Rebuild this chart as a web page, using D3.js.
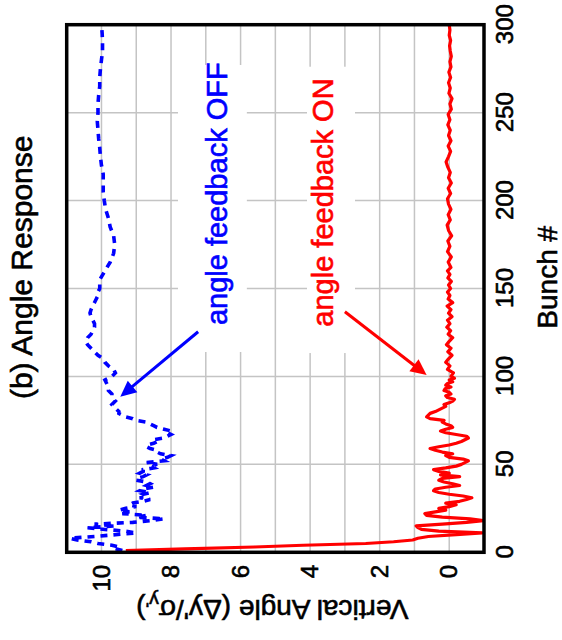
<!DOCTYPE html>
<html><head><meta charset="utf-8">
<script src="https://cdn.jsdelivr.net/npm/d3@7"></script>
<style>body{margin:0;background:#fff}svg{display:block}text{font-family:"Liberation Sans",Arial,Helvetica,sans-serif}</style>
</head><body>
<script>
// ---- data ----
const bunchTicks = [0, 50, 100, 150, 200, 250, 300];
const angleTicks = [0, 2, 4, 6, 8, 10];
const bunchGrid = [50, 100, 150, 200, 250];
const angleGrid = [0, 1, 2, 3, 4, 5, 6, 7, 8, 9, 10];

const offBunch = [1,2,3,4,5,6,7,8,9,10,11,12,13,14,15,16,17,18,19,20,21,22,23,24,25,26,27,28,29,30,31,32,33,34,35,36,37,38,39,40,41,42,43,44,45,46,47,48,49,50,51,52,53,54,55,56,57,58,59,60,61,62,63,64,65,66,67,68,69,70,71,72,73,74,75,76,77,78,79,80,82,84,86,88,90,92,94,96,98,100,102,104,106,108,110,112,114,116,118,120,122,124,126,128,130,132,134,136,138,140,142,144,146,148,150,155,160,165,170,175,180,185,190,195,200,205,210,215,220,225,230,235,240,245,250,255,260,265,270,275,280,285,290,295,300];
const offAngle = [9.4,9.6,9.5,9.7,10.1,10.3,10.7,10.9,10.2,9.6,9.0,9.3,9.9,10.4,9.6,10.2,9.1,8.6,8.2,9.0,8.7,9.4,9.2,9.5,9.3,9.0,9.2,9.1,8.8,8.6,8.9,8.7,8.8,8.6,8.9,8.8,8.5,8.7,8.6,8.7,9.0,9.0,8.8,8.7,8.9,8.8,8.8,8.5,8.6,8.4,8.7,8.2,8.3,8.1,8.0,8.3,8.4,8.4,8.6,8.7,8.7,8.5,8.4,8.5,8.2,8.1,8.0,8.1,8.0,8.2,8.4,8.5,8.6,8.7,9.0,9.1,9.3,9.4,9.5,9.5,9.6,9.7,9.6,9.7,9.7,9.8,9.8,9.85,9.9,9.7,9.6,9.65,9.8,9.9,9.95,10.1,10.2,10.3,10.4,10.45,10.4,10.3,10.25,10.2,10.2,10.25,10.3,10.33,10.3,10.25,10.2,10.15,10.1,10.1,10.05,10.05,9.9,9.75,9.65,9.62,9.65,9.75,9.8,9.88,9.92,9.95,9.95,9.95,10.0,10.03,10.05,10.08,10.1,10.12,10.1,10.1,10.08,10.05,10.05,10.03,10.0,9.97,9.97,9.98,10.0];

const onBunch = [1,2,3,4,5,6,7,8,9,10,11,12,13,14,15,16,17,18,19,20,21,22,23,24,25,26,27,28,29,30,31,32,33,34,35,36,37,38,39,40,41,42,43,44,45,46,47,48,49,50,51,52,53,54,55,56,57,58,59,60,61,62,63,64,65,66,67,68,69,70,71,72,73,74,75,76,77,78,79,80,81,82,83,84,85,86,87,88,89,90,91,92,93,94,95,96,97,98,99,100,102,104,106,108,110,112,114,116,118,120,122,124,126,128,130,132,134,136,138,140,142,144,146,148,150,152,154,156,158,160,162,165,168,171,174,177,180,183,186,189,192,195,198,201,204,207,210,213,216,219,222,225,228,231,234,237,240,243,246,249,252,255,258,261,264,267,270,273,276,279,282,285,288,291,294,297,300];
const onAngle = [9.3,7.6,5.6,4.2,2.4,1.6,1.05,0.9,0.6,-0.2,-0.95,0.3,0.8,0.9,0.95,0.2,-0.5,-0.98,-0.6,0.2,0.65,0.7,0.4,0.1,0.3,0.0,-0.2,0.1,-0.3,-0.5,-0.65,-0.4,0.0,0.3,0.45,0.4,0.1,-0.3,-0.1,0.15,0.3,0.2,-0.3,0.25,0.0,0.3,0.45,0.1,-0.2,-0.35,-0.45,-0.55,-0.4,0.0,0.1,-0.1,0.2,0.4,0.55,0.3,0.0,-0.2,-0.35,-0.45,-0.55,-0.5,-0.2,0.1,0.25,0.1,-0.1,-0.05,0.1,0.2,0.15,0.55,0.65,0.6,0.55,0.4,0.3,0.2,0.1,0.15,0.0,-0.1,-0.15,0.05,0.1,-0.05,0.0,0.15,0.12,-0.05,0.1,0.05,-0.1,0.0,-0.15,-0.05,-0.12,0.05,-0.02,0.1,0.02,-0.08,0.04,-0.05,0.08,0.0,-0.1,0.03,-0.04,0.07,-0.02,0.05,-0.08,0.02,-0.05,0.06,-0.1,0.03,-0.02,0.05,-0.04,0.02,-0.06,0.04,-0.02,0.05,-0.05,0.03,-0.06,0.05,-0.02,0.04,-0.07,0.02,0.06,-0.03,0.03,-0.05,0.02,0.05,-0.04,0.03,-0.06,0.02,-0.03,0.04,0.09,0.02,-0.04,0.03,-0.05,0.02,-0.03,0.04,-0.02,0.03,-0.06,-0.02,-0.08,0.01,-0.03,0.02,-0.04,0.01,-0.05,-0.02,-0.06,-0.03,-0.01,-0.04,0.0,-0.02,0.0];

const labels = ["angle feedback OFF", "angle feedback ON"];
const labelBunch = [129.2, 128.3];
const labelAngle = [6.40, 3.33];
const boxBunch = [[113.9, 277.1], [113.3, 276.1]];
const boxAngle = [[7.80, 5.82], [4.09, 2.71]];
const arrowFrom = [[125.4, 7.22], [136.8, 3.0]];
const arrowTo = [[88.5, 9.46], [100.8, 0.65]];
const colors = ["#0000ff", "#ff0000"];

// ---- layout ----
const W = 562, H = 640;
const L = 66.7, B = 552.3, PW = 527.6, PH = 417.3;

const svg = d3.select("body").append("svg").attr("width", W).attr("height", H);
svg.append("rect").attr("width", W).attr("height", H).attr("fill", "#fff");
const g = svg.append("g").attr("transform", `translate(${L},${B}) rotate(-90)`);

const x = d3.scaleLinear().domain([0, 300]).range([0, PW]);
const y = d3.scaleLinear().domain([-1, 11]).range([PH, 0]);

// grid
g.append("g").selectAll("line").data(bunchGrid).join("line")
  .attr("x1", d => x(d)).attr("x2", d => x(d)).attr("y1", 0).attr("y2", PH)
  .attr("stroke", "#c4c4c4").attr("stroke-width", 1.5);
g.append("g").selectAll("line").data(angleGrid).join("line")
  .attr("y1", d => y(d)).attr("y2", d => y(d)).attr("x1", 0).attr("x2", PW)
  .attr("stroke", "#c4c4c4").attr("stroke-width", 1.5);

// label boxes
g.append("g").selectAll("rect").data(boxBunch).join("rect")
  .attr("x", (d) => x(d[0])).attr("width", d => x(d[1]) - x(d[0]))
  .attr("y", (d, i) => y(boxAngle[i][0])).attr("height", (d, i) => y(boxAngle[i][1]) - y(boxAngle[i][0]))
  .attr("fill", "#fff");

// series
const line = d3.line().x(d => x(d[0])).y(d => y(d[1]));
g.append("path").datum(onBunch.map((b, i) => [b, onAngle[i]]))
  .attr("d", line).attr("fill", "none").attr("stroke", colors[1]).attr("stroke-width", 3.2).attr("stroke-linejoin", "round");
g.append("path").datum(offBunch.map((b, i) => [b, offAngle[i]]))
  .attr("d", line).attr("fill", "none").attr("stroke", colors[0]).attr("stroke-width", 3.6).attr("stroke-dasharray", "7,6");

// labels
g.append("g").selectAll("text").data(labels).join("text")
  .attr("x", (d, i) => x(labelBunch[i])).attr("y", (d, i) => y(labelAngle[i]))
  .attr("fill", (d, i) => colors[i]).attr("stroke", (d, i) => colors[i]).attr("stroke-width", 0.6)
  .attr("font-size", 29).text(d => d);

// arrows
arrowFrom.forEach((f, i) => {
  const x0 = x(f[0]), y0 = y(f[1]), x1 = x(arrowTo[i][0]), y1 = y(arrowTo[i][1]);
  const dx = x1 - x0, dy = y1 - y0, len = Math.hypot(dx, dy), ux = dx / len, uy = dy / len;
  const hl = 16, hw = 7.5;
  const bx = x1 - ux * hl, by = y1 - uy * hl;
  g.append("line").attr("x1", x0).attr("y1", y0).attr("x2", bx + ux * 2).attr("y2", by + uy * 2)
    .attr("stroke", colors[i]).attr("stroke-width", 3);
  g.append("path").attr("d", `M${x1},${y1}L${bx - uy * hw},${by + ux * hw}L${bx + uy * hw},${by - ux * hw}Z`)
    .attr("fill", colors[i]);
});

// frame
g.append("rect").attr("width", PW).attr("height", PH).attr("fill", "none").attr("stroke", "#000").attr("stroke-width", 3.5);

// axes labels
const ax = g.append("g").attr("transform", `translate(0,${PH})`)
  .call(d3.axisBottom(x).tickValues(bunchTicks).tickSize(0).tickPadding(12));
ax.select(".domain").remove();
ax.selectAll("text").attr("font-size", 24).attr("font-family", null).attr("fill", "#000").attr("stroke", "#000").attr("stroke-width", 0.6);
const ay = g.append("g")
  .call(d3.axisLeft(y).tickValues(angleTicks).tickSize(0).tickPadding(12.5));
ay.select(".domain").remove();
ay.selectAll("text").attr("font-size", 24).attr("font-family", null).attr("fill", "#000").attr("stroke", "#000").attr("stroke-width", 0.6);

// titles
const heavy = sel => sel.attr("fill", "#000").attr("stroke", "#000").attr("stroke-width", 0.6);
g.append("text").attr("x", 285).attr("y", -35).attr("text-anchor", "middle").attr("font-size", 30).call(heavy).text("(b) Angle Response");
g.append("text").attr("x", 275).attr("y", PH + 73).attr("text-anchor", "middle").attr("font-size", 28).call(heavy).text("Bunch #");
const yl = g.append("text").attr("transform", `translate(-47.7,${PH / 2 - 3}) rotate(-90)`).attr("text-anchor", "middle").attr("font-size", 28).call(heavy);
yl.append("tspan").text("Vertical Angle (Δy'/σ");
yl.append("tspan").attr("font-size", 19).attr("dy", 6).text("y'");
yl.append("tspan").attr("dy", -6).text(")");
</script>
</body></html>
